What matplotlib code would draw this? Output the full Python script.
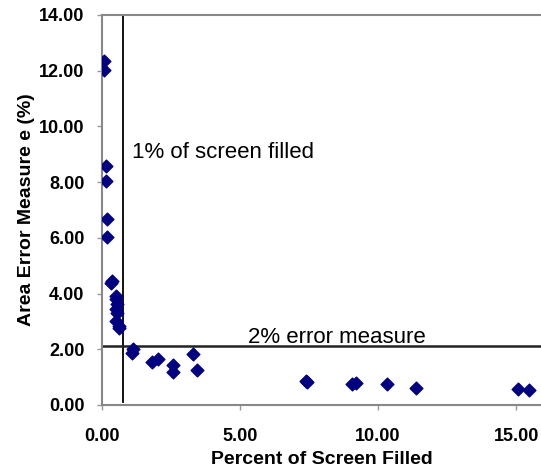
import matplotlib
matplotlib.use("Agg")
import matplotlib.pyplot as plt

# percent of screen filled vs. area error measure
pct_filled = [0.08, 0.08, 0.15, 0.15, 0.18, 0.18,
              0.33, 0.36, 0.50, 0.52, 0.55, 0.50, 0.55, 0.52, 0.60, 0.62,
              1.09, 1.13, 1.82, 2.04, 2.58, 2.58, 3.31, 3.45,
              7.39, 7.42, 9.05, 9.20, 10.31, 11.38, 15.08, 15.48]
area_error = [12.36, 12.02, 8.58, 8.05, 6.68, 6.02,
              4.39, 4.45, 3.92, 3.80, 3.62, 3.45, 3.30, 3.02, 2.85, 2.78,
              1.86, 2.00, 1.53, 1.66, 1.42, 1.20, 1.84, 1.25,
              0.86, 0.82, 0.75, 0.78, 0.74, 0.60, 0.56, 0.55]

one_pct_x = 0.77
two_pct_y = 2.1

xticks = [0, 5, 10, 15]
yticks = [0, 2, 4, 6, 8, 10, 12, 14]

plt.rcParams['font.family'] = ['Liberation Sans', 'DejaVu Sans']

fig = plt.figure(figsize=(5.41, 4.70), dpi=100)
ax = fig.add_axes([0.1885, 0.1383, 0.8115, 0.8298])

ax.scatter(pct_filled, area_error, marker='D', s=42, color='#000080',
           edgecolors='#000080', zorder=3)

ax.plot([one_pct_x, one_pct_x], [0.12, 14], color='black', lw=1.3, zorder=2)
ax.plot([0, 16], [two_pct_y, two_pct_y], color='#222222', lw=1.8, zorder=2)

ax.text(1.09, 9.05, '1% of screen filled', fontsize=16, va='center', ha='left')
ax.text(5.29, 2.23, '2% error measure', fontsize=16, va='baseline', ha='left')

ax.set_xlim(0, 15.9)
ax.set_ylim(0, 14)
ax.set_xticks(xticks)
ax.set_yticks(yticks)
ax.set_xticklabels(['%.2f' % v for v in xticks], fontweight='bold', fontsize=13)
ax.set_yticklabels(['%.2f' % v for v in yticks], fontweight='bold', fontsize=13)
ax.tick_params(axis='both', color='#999999', length=3.6, width=1)
ax.tick_params(axis='x', pad=13)
ax.tick_params(axis='y', pad=9)

for side in ['left', 'bottom', 'top']:
    ax.spines[side].set_color('#888888')
    ax.spines[side].set_linewidth(1.5)
ax.spines['right'].set_visible(False)

ax.set_xlabel('Percent of Screen Filled', fontweight='bold', fontsize=14, labelpad=4)
ax.set_ylabel('Area Error Measure e (%)', fontweight='bold', fontsize=14, labelpad=3)

fig.savefig('out.png', dpi=100)
